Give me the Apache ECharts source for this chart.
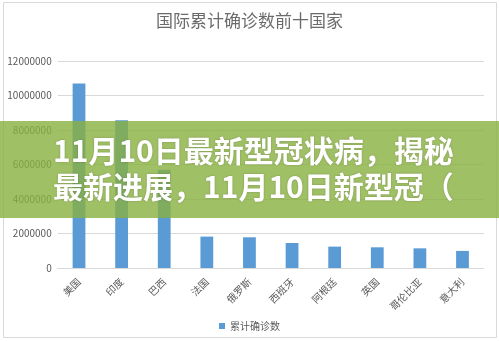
<!DOCTYPE html>
<html>
<head>
<meta charset="utf-8">
<script src="https://cdn.jsdelivr.net/npm/echarts@6/dist/echarts.min.js"></script>
<style>
html,body{margin:0;padding:0;background:#fff;}
#c{width:499px;height:341px;}
</style>
</head>
<body>
<div id="c"></div>
<script>
var categories = ['美国','印度','巴西','法国','俄罗斯','西班牙','阿根廷','英国','哥伦比亚','意大利'];
var confirmed = [10690000, 8560000, 5690000, 1820000, 1780000, 1450000, 1240000, 1200000, 1140000, 990000];
var seriesName = '累计确诊数';
var titleText = '国际累计确诊数前十国家';
var bannerLine1 = '11月10日最新型冠状病，揭秘';
var bannerLine2 = '最新进展，11月10日新型冠（';

var chart = echarts.init(document.getElementById('c'), null, {renderer:'canvas'});
var font = '"Noto Sans CJK SC", "Noto Sans", sans-serif';
chart.setOption({
  animation:false,
  backgroundColor:'#fff',
  textStyle:{fontFamily:font},
  title:{text:titleText,left:'center',top:7,
    textStyle:{fontSize:17,fontWeight:'normal',color:'#6b6b6b',fontFamily:font}},
  grid:{left:57.7,right:15.2,top:61,bottom:73,containLabel:false},
  legend:{data:[seriesName],left:'center',top:316,itemWidth:6,itemHeight:6,itemGap:5,
    icon:'rect',textStyle:{fontSize:10,color:'#595959'}},
  xAxis:{type:'category',data:categories,
    axisLine:{lineStyle:{color:'#d9d9d9'}},axisTick:{show:false},
    axisLabel:{rotate:45,fontSize:10,color:'#595959',margin:12,interval:0}},
  yAxis:{type:'value',min:0,max:12000000,interval:2000000,
    axisLine:{show:false},axisTick:{show:false},
    splitLine:{lineStyle:{color:'#d9d9d9'}},
    axisLabel:{fontSize:10,color:'#595959',margin:6,formatter:function(v){return String(v);}}},
  series:[{name:seriesName,type:'bar',data:confirmed,barWidth:'30%',
    itemStyle:{color:'#5b9bd5'}}],
  graphic:[
    {type:'rect',z:100,silent:true,shape:{x:3.5,y:2.5,width:493,height:335},
      style:{fill:null,stroke:'#d9d9d9',lineWidth:1}},
    {type:'rect',z:200,silent:true,shape:{x:0,y:121,width:499,height:97},
      style:{fill:'rgba(136,176,64,0.8)'}},
    {type:'text',z:210,silent:true,left:53,top:136,
      style:{text:bannerLine1,fill:'#fff',font:'bold 30px '+font,
        textShadowColor:'rgba(0,0,0,0.25)',textShadowBlur:2}},
    {type:'text',z:210,silent:true,left:53,top:172,
      style:{text:bannerLine2,fill:'#fff',font:'bold 30px '+font,
        textShadowColor:'rgba(0,0,0,0.25)',textShadowBlur:2}}
  ]
});
</script>
</body>
</html>
